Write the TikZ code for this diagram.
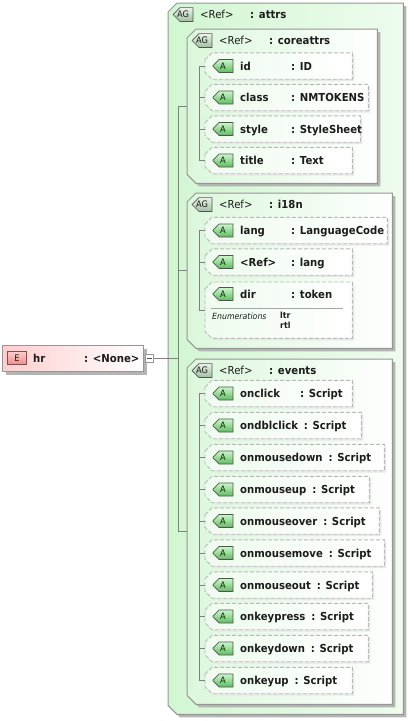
\documentclass[tikz,border=0pt]{standalone}
\usepackage{fontspec}
\setmainfont{DejaVu Sans}[FakeStretch=0.92]
\usetikzlibrary{shapes.misc,shadows,calc}
\definecolor{xsgreen}{RGB}{210,246,210}
\definecolor{xsgreenlt}{RGB}{238,252,238}
\definecolor{xsline}{RGB}{150,150,150}
\definecolor{xsshade}{RGB}{180,180,180}
\definecolor{xsicondk}{RGB}{90,190,90}
\definecolor{xsiconlt}{RGB}{205,245,205}
\definecolor{xsagdk}{RGB}{160,192,160}
\definecolor{xspink}{RGB}{255,206,206}
\definecolor{xsred}{RGB}{236,140,140}
\definecolor{xstext}{RGB}{28,28,28}

\tikzset{
  spot/.style={rectangle, inner sep=0pt},
  outerbox/.style={draw=xsline, line width=1pt, left color=xsgreen, right color=xsgreenlt,
    drop shadow={shadow xshift=3pt, shadow yshift=-3pt, fill=xsshade, opacity=1}},
  groupbox/.style={outerbox, left color=xsgreen!80!white, right color=white},
  abox/.style={draw=gray!55, dash pattern=on 4pt off 2pt, line width=0.9pt,
    left color=xsgreenlt, right color=white,
    drop shadow={shadow xshift=2pt, shadow yshift=-2pt, fill=gray!18, opacity=1}},
  aicon/.style={chamfered rectangle,
    chamfered rectangle corners={north west,south west},
    chamfered rectangle xsep=3.5pt, chamfered rectangle ysep=3.5pt,
    draw=gray!65!black, line width=0.7pt,
    top color=xsiconlt, bottom color=xsicondk, minimum width=20pt, minimum height=13pt,
    inner sep=0pt, text=xstext, font=\fontsize{9}{9}\selectfont},
  agicon/.style={aicon, top color=white!80!xsagdk, bottom color=xsagdk},
  eicon/.style={rectangle, draw=xsred!55!black, line width=0.7pt, top color=xspink,
    bottom color=xsred, minimum width=19pt, minimum height=13pt, inner sep=0pt,
    text=xstext, font=\fontsize{9}{9}\selectfont},
  hrbox/.style={rectangle, draw=xsline, line width=1pt, left color=xspink, right color=white,
    anchor=north west, minimum width=141pt, minimum height=26pt, inner sep=0pt,
    drop shadow={shadow xshift=3pt, shadow yshift=-3pt, fill=xsshade, opacity=1}},
  fold/.style={rectangle, draw=xsline, fill=white, minimum size=8pt, inner sep=0pt},
  conn/.style={draw=gray, line width=0.8pt},
  xsname/.style={anchor=base west, inner sep=0pt, text=xstext,
    font=\fontsize{11}{13}\selectfont\bfseries},
  xsref/.style={xsname, font=\fontsize{11}{13}\selectfont},
  xsenum/.style={anchor=base west, inner sep=0pt, text=xstext,
    font=\fontsize{8.5}{9}\selectfont\itshape},
  xsval/.style={xsenum, font=\fontsize{8.5}{9}\selectfont\bfseries}
}

% outline with the two left corners cut: node, cut, style
\newcommand\xsframe[3]{%
  \path[#3] ([yshift=-#2]#1.north west) -- ([xshift=#2]#1.north west) -- (#1.north east)
    -- (#1.south east) -- ([xshift=#2]#1.south west) -- ([yshift=#2]#1.south west) -- cycle;}
% group: name, left x, top y, width, height, style
\newcommand\xsgroup[6]{%
  \node[spot, anchor=north west, minimum width=#4pt, minimum height=#5pt] (#1) at (#2,#3) {};
  \xsframe{#1}{9pt}{#6}
  \node[agicon] (#1-icon) at (#2+15,#3+11.5) {AG};
  \node[xsref] (#1-ref) at (#2+32,#3+15.5) {<Ref>};
  \node[xsname] (#1-type) at (#2+82,#3+15.5) {: #1};}
% attribute: name, row y, right x, label, type, least x of type
\newcommand\xsattr[6]{%
  \node[spot, anchor=west, minimum height=26pt, minimum width={#3pt-205pt}] (#1) at (205,#2) {};
  \xsframe{#1}{7pt}{abox}
  \node[aicon] (#1-icon) at (223,#2) {A};
  \node[xsname] (#1-name) at (240,#2+4) {#4};
  \path let \p1=(#1-name.base east) in
    node[xsname] (#1-type) at ({max(\x1+5.5pt,#6pt)},\y1) {: #5};}

\begin{document}
\begin{tikzpicture}[x=1pt,y=-1pt]
  \useasboundingbox (0,0) rectangle (411,721);
  % element
  \node[hrbox] (hr) at (2,345) {};
  \node[eicon] (hr-icon) at (17,358) {E};
  \node[xsname] (hr-name) at (33,362.5) {hr};
  \node[xsname] (hr-type) at (84,362.5) {: <None>};
  \node[fold] (hrc) at ([xshift=5.5pt]hr.east) {};
  \draw[gray!60!black] ([xshift=2pt]hrc.west) -- ([xshift=-2pt]hrc.east);

  % attribute groups
  \xsgroup{attrs}{168}{3}{235}{711}{outerbox}
  \xsgroup{coreattrs}{187}{29}{190}{154}{groupbox}
  \xsgroup{i18n}{187}{193}{205}{155}{groupbox}
  \xsgroup{events}{187}{359}{205}{345}{groupbox}

  % coreattrs
  \xsattr{id}{66}{352}{id}{ID}{291}
  \xsattr{class}{97.5}{368}{class}{NMTOKENS}{291}
  \xsattr{style}{129}{360}{style}{StyleSheet}{291}
  \xsattr{title}{160.5}{352}{title}{Text}{291}

  % i18n
  \xsattr{lang}{230.5}{387}{lang}{LanguageCode}{291}
  \xsattr{langref}{262}{352}{<Ref>}{lang}{291}
  \node[spot, anchor=north west, minimum width=147pt, minimum height=56pt] (dir) at (205,282) {};
  \xsframe{dir}{7pt}{abox}
  \node[aicon] (dir-icon) at (223,294) {A};
  \node[xsname] (dir-name) at (240,298) {dir};
  \node[xsname] (dir-type) at (291,298) {: token};
  \draw[gray!70] (211,308) -- (343,308);
  \node[xsenum] (dir-enum) at (212,319) {Enumerations};
  \node[xsval] (dir-ltr) at (280,318.5) {ltr};
  \node[xsval] (dir-rtl) at (280,328) {rtl};

  % events
  \xsattr{onclick}{393.5}{352}{onclick}{Script}{300}
  \xsattr{ondblclick}{425.5}{361}{ondblclick}{Script}{291}
  \xsattr{onmousedown}{457.5}{384}{onmousedown}{Script}{291}
  \xsattr{onmouseup}{489.5}{369}{onmouseup}{Script}{291}
  \xsattr{onmouseover}{521}{379}{onmouseover}{Script}{291}
  \xsattr{onmousemove}{553}{384}{onmousemove}{Script}{291}
  \xsattr{onmouseout}{585}{372}{onmouseout}{Script}{291}
  \xsattr{onkeypress}{616.5}{368}{onkeypress}{Script}{291}
  \xsattr{onkeydown}{648.5}{368}{onkeydown}{Script}{291}
  \xsattr{onkeyup}{680.5}{352}{onkeyup}{Script}{291}

  % connectors
  \coordinate (trunk) at (178,0);
  \coordinate (ctrunk) at (199,0);
  \draw[conn] (hrc.east) -- (hrc.east -| trunk);
  \draw[conn] (coreattrs.west) -- (coreattrs.west -| trunk) -- (events.west -| trunk) -- (events.west);
  \draw[conn] (i18n.west) -- (i18n.west -| trunk);
  \draw[conn] (id.west) -- (id.west -| ctrunk) -- (title.west -| ctrunk) -- (title.west);
  \foreach \a in {class,style}
    \draw[conn] (\a.west) -- (\a.west -| ctrunk);
  \draw[conn] (lang.west) -- (lang.west -| ctrunk) -- (dir.west -| ctrunk) -- (dir.west);
  \draw[conn] (langref.west) -- (langref.west -| ctrunk);
  \draw[conn] (onclick.west) -- (onclick.west -| ctrunk) -- (onkeyup.west -| ctrunk) -- (onkeyup.west);
  \foreach \a in {ondblclick,onmousedown,onmouseup,onmouseover,onmousemove,onmouseout,onkeypress,onkeydown}
    \draw[conn] (\a.west) -- (\a.west -| ctrunk);
\end{tikzpicture}
\end{document}
